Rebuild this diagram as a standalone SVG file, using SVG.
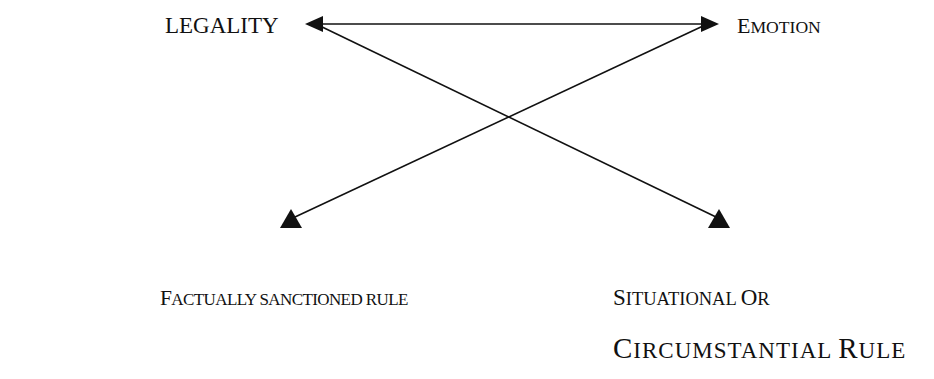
<svg xmlns="http://www.w3.org/2000/svg" width="934" height="379" viewBox="0 0 934 379">
<style>
text{font-family:"Liberation Serif","Times New Roman",serif;fill:#111;}
.ln{stroke:#111;stroke-width:1.6;fill:none;}
.ah{fill:#111;stroke:none;}
</style>
<rect width="934" height="379" fill="#fff"/>
<g id="connectors">
<line class="ln" x1="322" y1="24" x2="702" y2="24"/>
<line class="ln" x1="318" y1="25" x2="716" y2="217"/>
<line class="ln" x1="703" y1="26" x2="295" y2="217"/>
<polygon class="ah" points="305,24 323,16 323,32"/>
<polygon class="ah" points="719,24 701,16 701,32"/>
<polygon class="ah" points="291,209 280,228 302,228"/>
<polygon class="ah" points="719,209 708,228 730,228"/>
</g>
<g id="legality"><text x="165" y="33" font-size="23">LEGALITY</text></g>
<g id="emotion"><text x="737" y="33"><tspan font-size="22">E</tspan><tspan font-size="17.6">MOTION</tspan></text></g>
<g id="factual"><text x="160" y="305" letter-spacing="-0.6"><tspan font-size="21.5">F</tspan><tspan font-size="17">ACTUALLY SANCTIONED RULE</tspan></text></g>
<g id="situational"><text x="613" y="305"><tspan font-size="23">S</tspan><tspan font-size="18.5">ITUATIONAL </tspan><tspan font-size="23">O</tspan><tspan font-size="18.5">R</tspan></text>
<text x="613" y="358" letter-spacing="1"><tspan font-size="29">C</tspan><tspan font-size="23">IRCUMSTANTIAL </tspan><tspan font-size="29">R</tspan><tspan font-size="23">ULE</tspan></text></g>
</svg>
